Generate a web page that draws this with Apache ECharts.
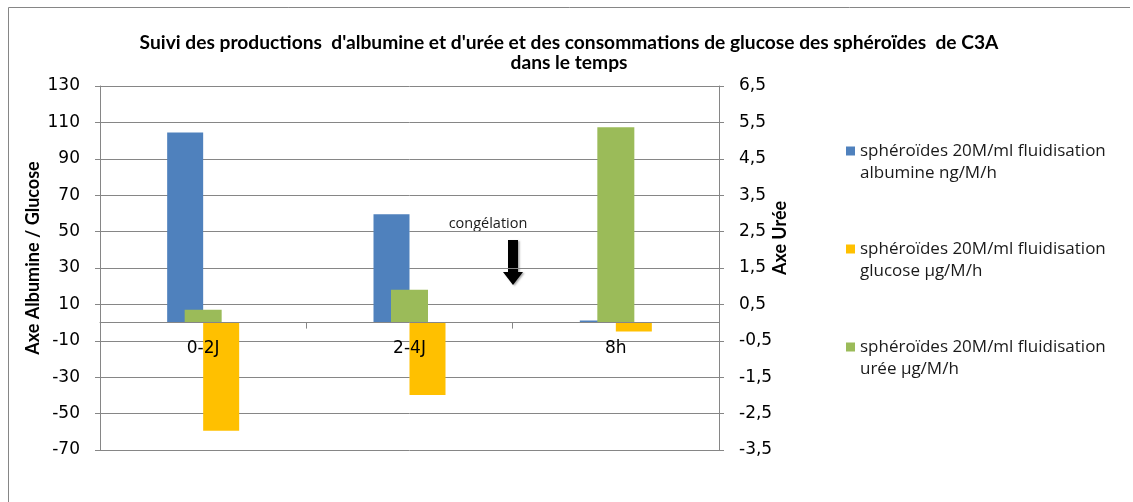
<!DOCTYPE html>
<html>
<head>
<meta charset="utf-8">
<script src="https://cdn.jsdelivr.net/npm/echarts@6/dist/echarts.min.js"></script>
<style>
  html, body { margin: 0; padding: 0; background: #fff; }
  #chart { width: 1133px; height: 502px; }
</style>
</head>
<body>
<div id="chart"></div>
<script>
// Sampling periods (categories)
const periods = ['0-2J', '2-4J', '8h'];

// Albumine production (ng/M/h) and glucose consumption (µg/M/h) — left axis
const albumine = [104.5, 59.5, 1.2];
const glucose = [-59.4, -39.8, -4.9];

// Urea production (µg/M/h) — right axis
const uree = [0.35, 0.9, 5.37];

const seriesNames = [
  'sphéroïdes 20M/ml fluidisation\nalbumine ng/M/h',
  'sphéroïdes 20M/ml fluidisation\nglucose µg/M/h',
  'sphéroïdes 20M/ml fluidisation\nurée µg/M/h'
];

// Tick values of both value axes
const leftTicks = [-70, -50, -30, -10, 10, 30, 50, 70, 90, 110, 130];
const rightTicks = [-3.5, -2.5, -1.5, -0.5, 0.5, 1.5, 2.5, 3.5, 4.5, 5.5, 6.5];

const GRID_GRAY = '#868686';
const TICK_FONT = 'DejaVu Sans';
const TEXT_FONT = 'Open Sans';
const TITLE_FONT = 'Lato';

const chart = echarts.init(document.getElementById('chart'));

chart.setOption({
  backgroundColor: '#fff',
  animation: false,
  title: {
    text: 'Suivi des productions  d\'albumine et d\'urée et des consommations de glucose des sphéroïdes  de C3A\ndans le temps',
    left: 564,
    top: 28,
    padding: 5,
    textAlign: 'center',
    textStyle: {
      fontFamily: TITLE_FONT,
      fontWeight: 'bold',
      fontSize: 19.2,
      lineHeight: 20,
      color: '#000'
    }
  },
  legend: {
    orient: 'vertical',
    left: 841,
    top: 113,
    itemWidth: 9,
    itemHeight: 9,
    itemGap: 32,
    icon: 'rect',
    data: seriesNames,
    formatter: name => '\n' + name,
    textStyle: {
      fontFamily: TEXT_FONT,
      fontSize: 17,
      lineHeight: 22,
      color: '#1a1a1a'
    }
  },
  grid: {
    left: 100,
    right: 414,
    top: 86,
    bottom: 52,
    containLabel: false
  },
  xAxis: [
    {
      type: 'category',
      data: periods,
      z: 3,
      position: 'bottom',
      offset: 0,
      axisLine: { onZero: false, lineStyle: { color: GRID_GRAY, width: 1 } },
      axisTick: { show: true, length: 6, alignWithLabel: false, lineStyle: { color: GRID_GRAY } },
      axisLabel: {
        margin: 17,
        fontFamily: TICK_FONT,
        fontSize: 17,
        color: '#000'
      },
      splitLine: { show: false }
    },
    {
      type: 'category',
      data: periods,
      show: false
    }
  ],
  yAxis: [
    {
      type: 'value',
      min: -70,
      max: 130,
      axisLine: { show: true, lineStyle: { color: GRID_GRAY } },
      axisTick: { show: true, length: 5, customValues: leftTicks, lineStyle: { color: GRID_GRAY } },
      axisLabel: {
        customValues: leftTicks,
        margin: 20,
        fontFamily: TICK_FONT,
        fontSize: 17,
        color: '#000'
      },
      splitLine: { show: true, lineStyle: { color: GRID_GRAY, width: 1 } }
    },
    {
      type: 'value',
      min: -3.5,
      max: 6.5,
      position: 'right',
      axisLine: { show: true, lineStyle: { color: GRID_GRAY } },
      axisTick: { show: true, length: 5, customValues: rightTicks, lineStyle: { color: GRID_GRAY } },
      axisLabel: {
        customValues: rightTicks,
        margin: 20,
        fontFamily: TICK_FONT,
        fontSize: 17,
        color: '#000',
        formatter: v => String(v).replace('.', ',')
      },
      splitLine: { show: false }
    }
  ],
  series: [
    {
      name: seriesNames[0],
      type: 'bar',
      xAxisIndex: 0,
      yAxisIndex: 0,
      data: albumine,
      barWidth: 36,
      barGap: '0%',
      itemStyle: { color: '#4F81BD' }
    },
    {
      name: seriesNames[1],
      type: 'bar',
      xAxisIndex: 0,
      yAxisIndex: 0,
      data: glucose,
      barWidth: 36,
      barGap: '0%',
      itemStyle: { color: '#FFC000' }
    },
    {
      name: seriesNames[2],
      type: 'bar',
      xAxisIndex: 1,
      yAxisIndex: 1,
      data: uree,
      barWidth: 37,
      itemStyle: { color: '#9BBB59' }
    }
  ],
  graphic: [
    // chart area frame (left and top edges)
    {
      type: 'polyline',
      shape: { points: [[8.5, 502], [8.5, 7.5], [1130, 7.5]] },
      style: { stroke: GRID_GRAY, lineWidth: 1, fill: null },
      silent: true
    },
    // axis titles
    {
      type: 'text',
      x: 33,
      y: 258,
      rotation: Math.PI / 2,
      style: {
        text: 'Axe Albumine / Glucose',
        fontFamily: TITLE_FONT,
        fontWeight: 'bold',
        fontSize: 18,
        fill: '#000',
        align: 'center',
        verticalAlign: 'middle'
      },
      silent: true
    },
    {
      type: 'text',
      x: 780,
      y: 238,
      rotation: Math.PI / 2,
      style: {
        text: 'Axe Urée',
        fontFamily: TITLE_FONT,
        fontWeight: 'bold',
        fontSize: 18,
        fill: '#000',
        align: 'center',
        verticalAlign: 'middle'
      },
      silent: true
    },
    // freezing annotation
    {
      type: 'text',
      x: 488,
      y: 224,
      style: {
        text: 'congélation',
        fontFamily: TEXT_FONT,
        fontSize: 14.5,
        fill: '#1a1a1a',
        align: 'center',
        verticalAlign: 'middle'
      },
      silent: true
    },
    {
      type: 'polygon',
      shape: {
        points: [[508, 240], [518, 240], [518, 272], [523, 272], [513, 285], [503, 272], [508, 272]]
      },
      style: {
        fill: '#000',
        shadowColor: 'rgba(0,0,0,0.35)',
        shadowBlur: 2,
        shadowOffsetX: 1.5,
        shadowOffsetY: 1
      },
      silent: true
    }
  ]
});

// Lift the category axis up to the zero level of the left value axis
const zeroY = chart.convertToPixel({ yAxisIndex: 0 }, 0);
const baseY = chart.convertToPixel({ yAxisIndex: 0 }, -70);
chart.setOption({ xAxis: [{ offset: zeroY - baseY }, {}] });
</script>
</body>
</html>
